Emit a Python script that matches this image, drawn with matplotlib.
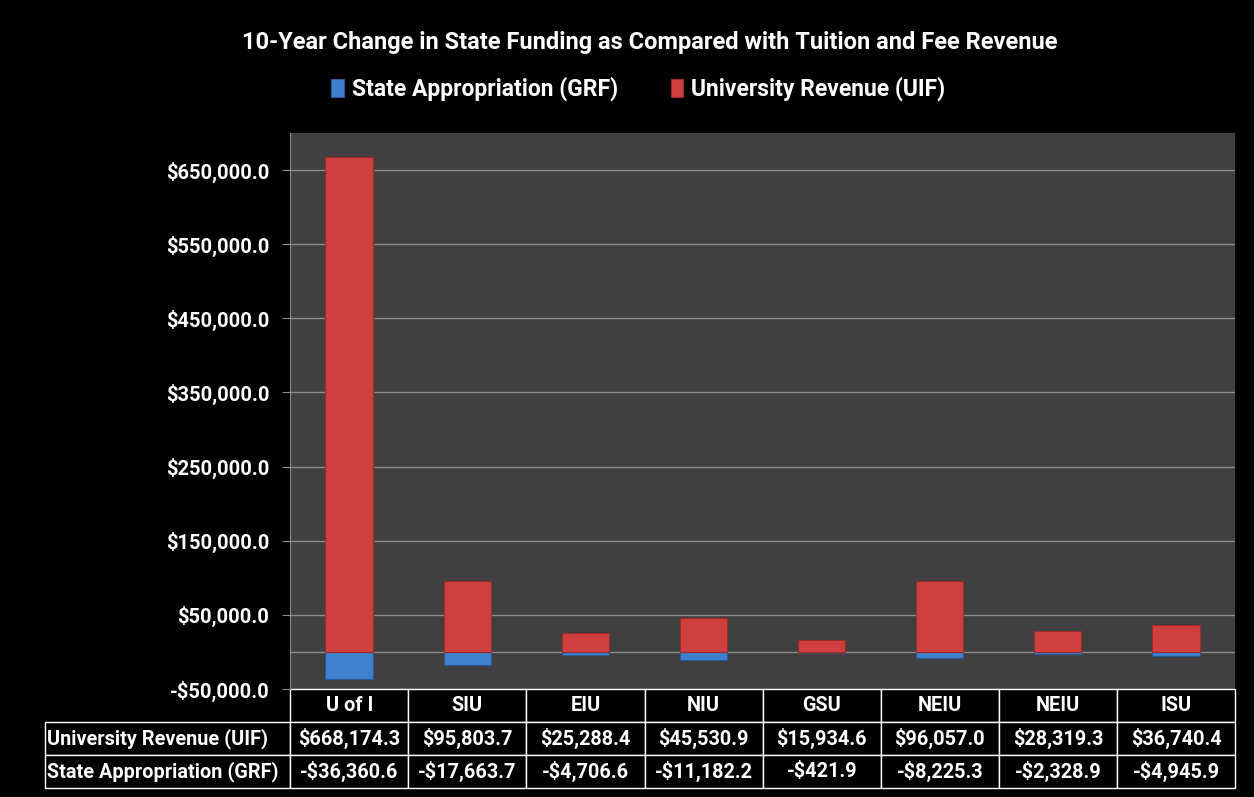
import numpy as np
import matplotlib.pyplot as plt

# Datos del gráfico (miles de dólares)
universidades = ['U of I', 'SIU', 'EIU', 'NIU', 'GSU', 'NEIU', 'NEIU', 'ISU']
ingresos_uif = [668174.3, 95803.7, 25288.4, 45530.9, 15934.6, 96057.0, 28319.3, 36740.4]
estatal_grf = [-36360.6, -17663.7, -4706.6, -11182.2, -421.9, -8225.3, -2328.9, -4945.9]
serie_uif = 'University Revenue (UIF)'
serie_grf = 'State Appropriation (GRF)'
titulo = '10-Year Change in State Funding as Compared with Tuition and Fee Revenue'
ticks_y = [-50000, 50000, 150000, 250000, 350000, 450000, 550000, 650000]

plt.rcParams['font.family'] = ['Roboto', 'DejaVu Sans']
plt.rcParams['font.weight'] = 'bold'

rojo = '#CF3F3F'
azul = '#3F80CF'

fig = plt.figure(figsize=(12.54, 7.97), dpi=100, facecolor='black')
ax = fig.add_axes([0.2313, 0.1355, 0.7536, 0.6976])
ax.set_facecolor('#404040')

pos = np.arange(len(universidades))
ax.bar(pos, estatal_grf, width=0.4, color=azul, edgecolor='#2A5A96', linewidth=0.8,
       label=serie_grf, zorder=3)
ax.bar(pos, ingresos_uif, width=0.4, color=rojo, edgecolor='#9E2B2B', linewidth=0.8,
       label=serie_uif, zorder=3)

ax.set_xlim(-0.5, len(universidades) - 0.5)
ax.set_ylim(-50000, 700000)
ax.set_yticks(ticks_y)
ax.set_yticklabels([('-$' if v < 0 else '$') + f'{abs(v):,.1f}' for v in ticks_y],
                   color='white', fontsize=14.5, fontweight='bold')
ax.set_xticks([])
ax.grid(axis='y', color='#8C8C8C', linewidth=1, zorder=1)
ax.axhline(0, color='#8C8C8C', linewidth=1, zorder=2)
ax.tick_params(axis='y', colors='#8C8C8C', length=6, direction='out', labelcolor='white', pad=9)
for lado in ['top', 'right', 'bottom']:
    ax.spines[lado].set_visible(False)
ax.spines['left'].set_color('#8C8C8C')

# Tabla de datos debajo del gráfico
fmt = lambda v: ('-$' if v < 0 else '$') + f'{abs(v):,.1f}'
celdas = [[''] + universidades,
          [serie_uif] + [fmt(v) for v in ingresos_uif],
          [serie_grf] + [fmt(v) for v in estatal_grf]]
anchos = [245 / 945] + [118 / 945] * len(universidades)
tabla = ax.table(cellText=celdas, colWidths=anchos, cellLoc='center',
                 bbox=[-245 / 945, -99 / 556, 1 + 245 / 945, 99 / 556])
tabla.auto_set_font_size(False)
tabla.set_fontsize(14.3)
for (r, c), celda in tabla.get_celld().items():
    celda.set_facecolor('black')
    celda.set_edgecolor('white')
    celda.set_linewidth(1)
    celda.get_text().set_color('white')
    celda.get_text().set_fontweight('bold')
    if c == 0:
        celda.get_text().set_ha('left')
        celda.PAD = 0.01
    if r == 0 and c == 0:
        celda.visible_edges = ''

fig.text(0.518, 0.947, titulo, color='white', fontsize=17, fontweight='bold',
         ha='center', va='center')
leg = fig.legend(loc='center', bbox_to_anchor=(0.509, 0.888), ncol=2, frameon=False,
                 prop={'size': 16.5, 'weight': 'bold'}, handlelength=0.55, handleheight=0.8,
                 columnspacing=2.3, handletextpad=0.35)
for t in leg.get_texts():
    t.set_color('white')

fig.savefig('out.png', dpi=100, facecolor='black')
